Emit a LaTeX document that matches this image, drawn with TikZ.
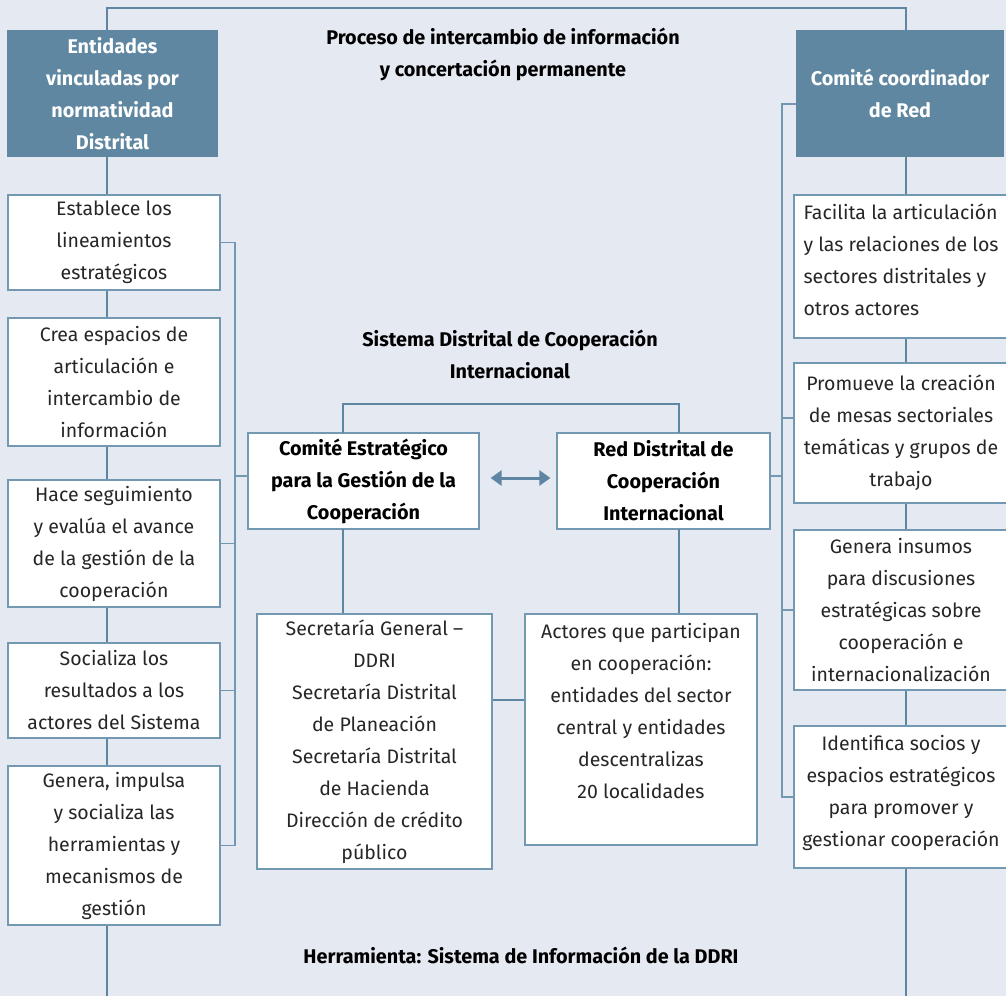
\documentclass[tikz,border=0pt]{standalone}
\usepackage{fontspec}
\setmainfont{Fira Sans}
\usetikzlibrary{arrows.meta}
\definecolor{bg}{HTML}{E5EAF2}
\definecolor{hdr}{HTML}{5F87A1}
\definecolor{ln}{HTML}{5E86A2}
\definecolor{bd}{HTML}{7398B2}
\begin{document}
\begin{tikzpicture}[x=1pt,y=-1pt,
  txt/.style={font=\fontsize{19.5}{32}\selectfont, text=black!85},
  btxt/.style={font=\fontsize{19.8}{32}\selectfont\bfseries, text=black},
  hbox/.style={fill=hdr, inner sep=0pt, align=center, text=white, font=\fontsize{19.8}{32}\selectfont\bfseries},
  wbox/.style={fill=white, draw=bd, line width=1.2pt, inner sep=0pt, align=center, txt},
  cbox/.style={wbox, font=\fontsize{19.8}{32}\selectfont\bfseries, text=black},
  spine/.style={draw=ln, line width=2.6pt},
  brk/.style={draw=bd, line width=1.8pt},
]
\fill[bg] (0,0) rectangle (1006,996);
\useasboundingbox (0,0) rectangle (1006,996);

% main frame
\coordinate (botL) at (107,996);
\coordinate (topL) at (107,8);
\coordinate (topR) at (906,8);
\coordinate (botR) at (906,996);
\draw[spine] (botL) -- (topL) -- (topR) -- (botR);

% titles
\node[btxt, align=center] (T1) at (503,54) {Proceso de intercambio de información\\y concertación permanente};
\node[btxt, align=center] (T2) at (510,354) {Sistema Distrital de Cooperación\\Internacional};
\node[btxt, align=center] (T3) at (521,955) {Herramienta: Sistema de Información de la DDRI};

% left column
\node[hbox, minimum width=211pt, minimum height=127pt] (L0) at (112.5,93.5) {Entidades\\vinculadas por\\normatividad\\Distrital};
\node[wbox, minimum width=212pt, minimum height=95pt] (L1) at (114,242.5) {Establece los\\lineamientos\\estratégicos};
\node[wbox, minimum width=212pt, minimum height=128pt] (L2) at (114,382) {Crea espacios de\\articulación e\\intercambio de\\información};
\node[wbox, minimum width=212pt, minimum height=127pt] (L3) at (114,543.5) {Hace seguimiento\\y evalúa el avance\\de la gestión de la\\cooperación};
\node[wbox, minimum width=212pt, minimum height=95pt] (L4) at (114,690.5) {Socializa los\\resultados a los\\actores del Sistema};
\node[wbox, minimum width=212pt, minimum height=159pt] (L5) at (114,845.5) {Genera, impulsa\\y socializa las\\herramientas y\\mecanismos de\\gestión};

% right column
\node[hbox, minimum width=208pt, minimum height=127pt] (R0) at (900,93.5) {Comité coordinador\\de Red};
\node[wbox, minimum width=214pt, minimum height=143pt, align=left] (R1) at (901,266.5) {Facilita la articulación\\y las relaciones de los\\sectores distritales y\\otros actores\\[-18pt]\mbox{}};
\node[wbox, minimum width=214pt, minimum height=140pt] (R2) at (901,433) {Promueve la creación\\de mesas sectoriales\\temáticas y grupos de\\trabajo};
\node[wbox, minimum width=214pt, minimum height=160pt] (R3) at (901,610) {Genera insumos\\para discusiones\\estratégicas sobre\\cooperación e\\internacionalización};
\node[wbox, minimum width=214pt, minimum height=142pt] (R4) at (901,797) {Identifica socios y\\espacios estratégicos\\para promover y\\gestionar cooperación\\[-20pt]\mbox{}};

% centre
\node[cbox, minimum width=231pt, minimum height=96pt] (CE) at (363.5,481) {Comité Estratégico\\para la Gestión de la\\Cooperación};
\node[cbox, minimum width=213pt, minimum height=96pt] (RD) at (663.5,481) {Red Distrital de\\Cooperación\\Internacional};
\node[wbox, minimum width=235pt, minimum height=255pt] (SG) at (374.5,741.5) {Secretaría General –\\DDRI\\Secretaría Distrital\\de Planeación\\Secretaría Distrital\\de Hacienda\\Dirección de crédito\\público};
\node[wbox, minimum width=232pt, minimum height=231pt] (AC) at (641,729.5) {Actores que participan\\en cooperación:\\entidades del sector\\central y entidades\\descentralizas\\20 localidades\\[6pt]\mbox{}};

% centre connectors
\coordinate (ceTop) at (343,433);
\coordinate (rdTop) at (679,433);
\coordinate (ceBot) at (343,529);
\coordinate (rdBot) at (679,529);
\draw[spine] (ceTop) -- ++(0,-29) -| (rdTop);
\draw[spine] (ceBot) -- (ceBot |- SG.north);
\draw[spine] (rdBot) -- (rdBot |- AC.north);
\draw[spine] (SG.east |- 0,700) -- (AC.west |- 0,700);
\draw[draw=ln, line width=3pt, {Triangle[width=15pt,length=11pt]}-{Triangle[width=15pt,length=11pt]}] ([xshift=11pt,yshift=3pt]CE.east) -- ([xshift=-6pt,yshift=3pt]RD.west);

% left bracket
\coordinate (lb) at (235,243);
\draw[brk] (L1.east) -| (L5.east -| lb) -- (L5.east);
\draw[brk] (L3.east) -- (L3.east -| lb);
\draw[brk] (L4.east) -- (L4.east -| lb);
\draw[brk] ([yshift=5pt]CE.west) -- ([yshift=5pt]CE.west -| lb);

% right bracket
\coordinate (rb) at (782,104);
\draw[brk] (R0.west |- rb) -- (rb) -- (rb |- R4.west) -- (R4.west);
\draw[brk] (R2.west |- 0,418) -- (rb |- 0,418);
\draw[brk] (R3.west) -- (R3.west -| rb);
\draw[brk] ([yshift=5pt]RD.east) -- ([yshift=5pt]RD.east -| rb);
\end{tikzpicture}
\end{document}
